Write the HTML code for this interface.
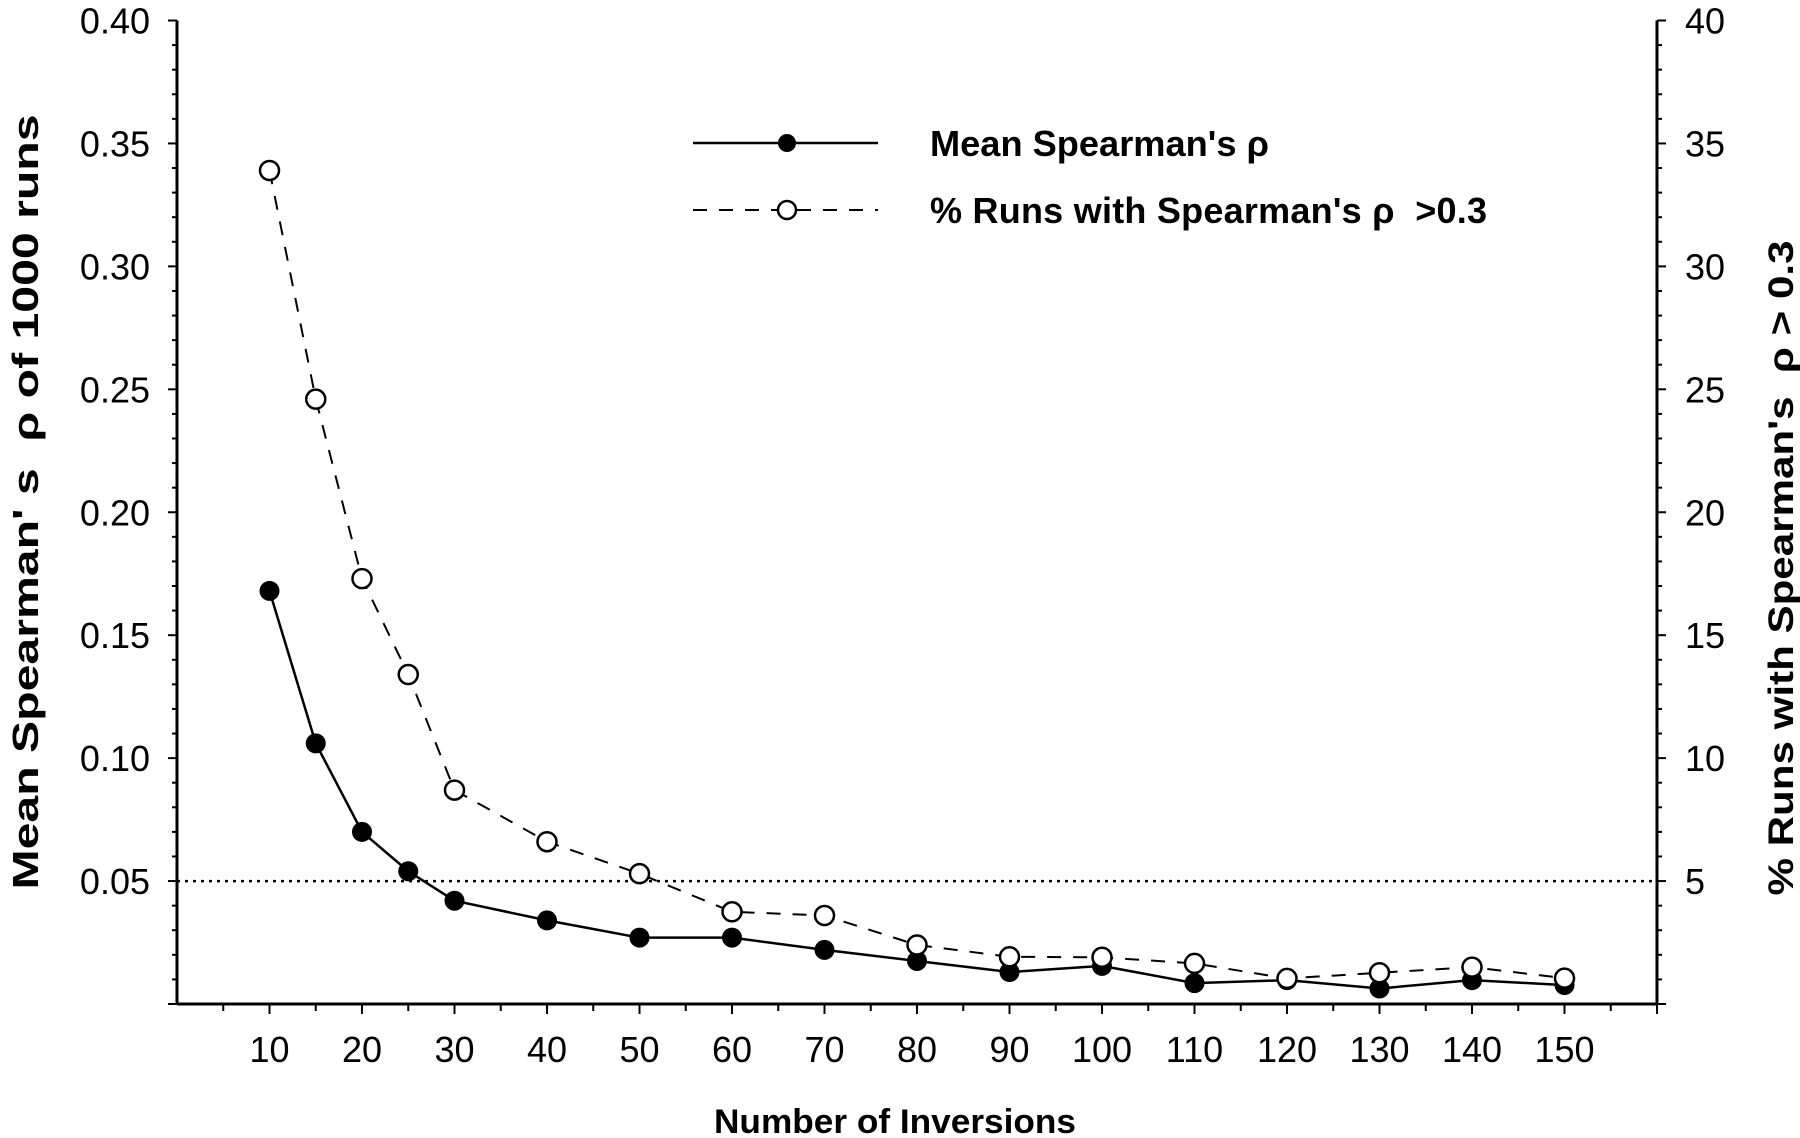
<!DOCTYPE html>
<html><head><meta charset="utf-8"><style>
html,body{margin:0;padding:0;background:#fff;}
svg{display:block;font-family:"Liberation Sans",Arial,sans-serif;}
</style></head><body>
<svg id="chart" width="1800" height="1138" viewBox="0 0 1800 1138" xmlns="http://www.w3.org/2000/svg">
<g id="axes"></g>
<g id="series"></g>
<g id="legend">
  <line x1="693" y1="143" x2="878" y2="143" stroke="#000" stroke-width="2.5"/>
  <circle cx="787" cy="143" r="9" fill="#000"/>
  <text x="930" y="156" font-size="36" font-weight="bold" textLength="339" lengthAdjust="spacingAndGlyphs">Mean Spearman's ρ</text>
  <line x1="693" y1="210" x2="878" y2="210" stroke="#000" stroke-width="2" stroke-dasharray="14,12"/>
  <circle cx="787" cy="210" r="9" fill="#fff" stroke="#000" stroke-width="2.5"/>
  <text x="930" y="223" font-size="36" font-weight="bold" textLength="557" lengthAdjust="spacing" xml:space="preserve">% Runs with Spearman's ρ  &gt;0.3</text>
</g>
<text x="895" y="1133" font-size="34" font-weight="bold" text-anchor="middle" textLength="362" lengthAdjust="spacingAndGlyphs">Number of Inversions</text>
<text transform="translate(38,502) rotate(-90)" font-size="36" font-weight="bold" text-anchor="middle" textLength="775" lengthAdjust="spacingAndGlyphs" xml:space="preserve">Mean Spearman' s  ρ of 1000 runs</text>
<text transform="translate(1793,568) rotate(-90)" font-size="35" font-weight="bold" text-anchor="middle" textLength="655" lengthAdjust="spacingAndGlyphs" xml:space="preserve">% Runs with Spearman's  ρ &gt; 0.3</text>
</svg>
<script>
const categories = [10,15,20,25,30,40,50,60,70,80,90,100,110,120,130,140,150];
const meanRho = [0.168,0.106,0.070,0.054,0.042,0.034,0.027,0.027,0.022,0.0175,0.013,0.0155,0.0085,0.0097,0.0063,0.0097,0.0077];
const pctRuns = [33.9,24.6,17.3,13.4,8.7,6.6,5.3,3.75,3.6,2.4,1.92,1.9,1.65,1.04,1.27,1.5,1.05];
const xTickLabels = [10,20,30,40,50,60,70,80,90,100,110,120,130,140,150];
const leftTickLabels = ["0.05","0.10","0.15","0.20","0.25","0.30","0.35","0.40"];
const rightTickLabels = ["5","10","15","20","25","30","35","40"];
const refLine = 0.05;

const NS="http://www.w3.org/2000/svg";
const X0=177, X1=1657, Y0=1004, Y1=20.5;
function xs(v){return X0+(v/160)*(X1-X0);}
function yl(v){return Y0-(v/0.40)*(Y0-Y1);}
function yr(v){return Y0-(v/40)*(Y0-Y1);}
function mk(tag,attrs,parent){const e=document.createElementNS(NS,tag);for(const k in attrs)e.setAttribute(k,attrs[k]);parent.appendChild(e);return e;}
const axes=document.getElementById('axes');
const ser=document.getElementById('series');

let e;
e=mk('line',{x1:X0,y1:Y1,x2:X0,y2:Y0,stroke:'#000','stroke-width':3},axes);


e=mk('line',{x1:X1,y1:Y1,x2:X1,y2:Y0,stroke:'#000','stroke-width':3},axes);


e=mk('line',{x1:X0,y1:Y0,x2:X1,y2:Y0,stroke:'#000','stroke-width':3},axes);



for(let i=0;i<=40;i++){
  const v=i*0.01; const y=yl(v); const major=(i%5===0);
  mk('line',{x1:X0-(major?9:5),y1:y,x2:X0,y2:y,stroke:'#000','stroke-width':2},axes);
  mk('line',{x1:X1,y1:y,x2:X1+(major?9:5),y2:y,stroke:'#000','stroke-width':2},axes);
}
for(let v=5;v<=160;v+=5){
  mk('line',{x1:xs(v),y1:Y0,x2:xs(v),y2:Y0+(v%10===0?10:7),stroke:'#000','stroke-width':2},axes);
}
leftTickLabels.forEach(s=>{
  const t=mk('text',{x:150,y:yl(parseFloat(s))+13,'font-size':36,'text-anchor':'end'},axes);
  t.textContent=s;
  
  
});
rightTickLabels.forEach(s=>{
  const t=mk('text',{x:1685,y:yr(parseFloat(s))+13,'font-size':36,'text-anchor':'start'},axes);
  t.textContent=s;
  
  
});
xTickLabels.forEach(v=>{
  const t=mk('text',{x:xs(v),y:1062,'font-size':36,'text-anchor':'middle'},axes);
  t.textContent=String(v);
  
  
});
e=mk('line',{x1:X0,y1:yl(refLine),x2:X1,y2:yl(refLine),stroke:'#000','stroke-width':2.5,'stroke-dasharray':'3,5'},ser);



e=mk('polyline',{points:categories.map((c,i)=>xs(c)+','+yr(pctRuns[i])).join(' '),fill:'none',stroke:'#000','stroke-width':2,'stroke-dasharray':'14,12'},ser);


e=mk('polyline',{points:categories.map((c,i)=>xs(c)+','+yl(meanRho[i])).join(' '),fill:'none',stroke:'#000','stroke-width':2.5},ser);


categories.forEach((c,i)=>{
  const p=mk('circle',{cx:xs(c),cy:yl(meanRho[i]),r:10,fill:'#000'},ser);
  
  
});
categories.forEach((c,i)=>{
  const p=mk('circle',{cx:xs(c),cy:yr(pctRuns[i]),r:9.5,fill:'#fff',stroke:'#000','stroke-width':2.5},ser);
  
  
});
</script>
</body></html>
